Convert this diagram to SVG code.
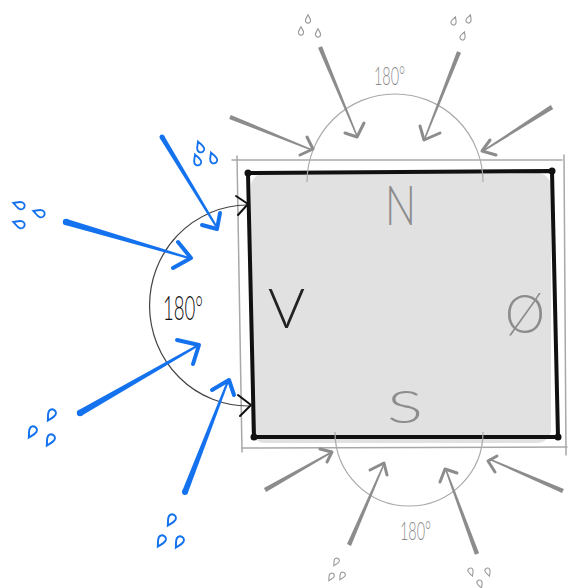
<svg xmlns="http://www.w3.org/2000/svg" xmlns:xlink="http://www.w3.org/1999/xlink" width="571" height="588" viewBox="0 0 571 588">
<style>
.frame{fill:none;stroke:#a8a8a8;stroke-width:1.5;stroke-linecap:round}
.wall{fill:none;stroke:#111;stroke-width:4;stroke-linecap:round;stroke-linejoin:round}
.arcg{fill:none;stroke:#aaa;stroke-width:1.2}
.arck{fill:none;stroke:#444;stroke-width:1.2}
.shb{fill:#1472ee}
.hdb{fill:none;stroke:#1472ee;stroke-width:4;stroke-linecap:round;stroke-linejoin:round}
.shg{fill:#8c8c8c}
.hdg{fill:none;stroke:#8c8c8c;stroke-width:3;stroke-linecap:round;stroke-linejoin:round}
.hdk{fill:none;stroke:#111;stroke-width:2;stroke-linecap:round;stroke-linejoin:round}
.dropb{fill:none;stroke:#1472ee;stroke-width:1.6}
.dropg{fill:none;stroke:#999;stroke-width:1.3}
.lbl{font-family:Lato,"Liberation Sans",Arial,sans-serif;font-weight:300}
.deg{font-family:Lato,"Liberation Sans",Arial,sans-serif;font-weight:300;font-size:25px;fill:#8c8c8c}
</style>
<defs>
<path id="drop" d="M0,-5 C-1.2,-2.5 -3,-0.5 -3,1.8 A3,3 0 0 0 3,1.8 C3,-0.5 1.2,-2.5 0,-5 Z"/>
</defs>

<g id="frame">
<line class="frame" x1="232" y1="160" x2="562" y2="160"/>
<line class="frame" x1="237" y1="156" x2="242" y2="452"/>
<line class="frame" x1="242" y1="448" x2="567" y2="447"/>
<line class="frame" x1="564" y1="155" x2="566" y2="455"/>
</g>

<g id="house">
<rect x="251" y="173" width="300" height="270" rx="14" fill="#e1e1e1"/>
<path class="wall" d="M248,173 L552,171 L558,437 L254,437 Z"/>
<circle cx="248" cy="173" r="3.5" fill="#111"/>
<circle cx="552" cy="171" r="3.5" fill="#111"/>
<circle cx="254" cy="437" r="3.5" fill="#111"/>
<circle cx="558" cy="437" r="3.5" fill="#111"/>
</g>

<g id="label-N"><text class="lbl" x="385" y="225" font-size="55" fill="#8c8c8c" textLength="31" lengthAdjust="spacingAndGlyphs">N</text></g>
<g id="label-V"><text class="lbl" x="268" y="328" font-size="56" fill="#222" textLength="37" lengthAdjust="spacingAndGlyphs">V</text></g>
<g id="label-O"><text class="lbl" x="505" y="333" font-size="54" fill="#8c8c8c" textLength="40" lengthAdjust="spacingAndGlyphs">Ø</text></g>
<g id="label-S"><text class="lbl" x="387" y="423" font-size="46" fill="#8c8c8c" textLength="36" lengthAdjust="spacingAndGlyphs">S</text></g>

<g id="arc-north">
<path class="arcg" d="M307,182 A88,88 0 0 1 483,182"/>
<text class="deg" x="374" y="85" textLength="31" lengthAdjust="spacingAndGlyphs">180°</text>
</g>
<g id="arc-south">
<path class="arcg" d="M335,432 A74,74 0 0 0 483,432"/>
<text class="deg" x="400" y="540" textLength="31" lengthAdjust="spacingAndGlyphs">180°</text>
</g>
<g id="arc-west">
<path class="arck" d="M247,205 A98,100 0 0 0 249,406"/>
<text class="lbl" x="163" y="320" font-size="34" fill="#111" textLength="40" lengthAdjust="spacingAndGlyphs">180°</text>
</g>

<g id="connectors">
<path class="hdk" d="M236,196 L248,204 L238,215"/>
<path class="hdk" d="M238,395 L251,405 L240,416"/>
<polygon class="shb" points="159.9,138.3 164.1,135.7 216.9,225.5 215.1,226.5"/>
<circle class="shb" cx="162" cy="137" r="2.5"/>
<path class="hdb" d="M202,225 L217,229 L220,213"/>
<polygon class="shb" points="65.1,225.1 66.9,218.9 189.3,257.0 188.7,259.0"/>
<circle class="shb" cx="66" cy="222" r="3.2"/>
<path class="hdb" d="M178,242 L191,258 L173,268"/>
<polygon class="shb" points="81.6,415.8 78.4,410.2 196.5,345.1 197.5,346.9"/>
<circle class="shb" cx="80" cy="413" r="3.2"/>
<path class="hdb" d="M177,340 L199,345 L193,364"/>
<polygon class="shb" points="187.8,493.1 182.2,490.9 227.1,380.6 228.9,381.4"/>
<circle class="shb" cx="185" cy="492" r="3"/>
<path class="hdb" d="M212,390 L229,380 L234,395"/>
<polygon class="shg" points="229.2,119.0 230.8,115.0 312.3,149.3 311.7,150.7"/>
<path class="hdg" d="M307,137 L313,149 L300,155"/>
<polygon class="shg" points="318.0,47.8 322.0,46.2 357.7,135.7 356.3,136.3"/>
<path class="hdg" d="M345,133 L357,137 L364,123"/>
<polygon class="shg" points="457.0,51.2 461.0,52.8 425.7,138.3 424.3,137.7"/>
<path class="hdg" d="M420,126 L424,140 L440,133"/>
<polygon class="shg" points="550.8,105.1 553.2,108.9 483.4,151.7 482.6,150.3"/>
<path class="hdg" d="M490,140 L482,151 L496,155"/>
<polygon class="shg" points="266.1,491.9 263.9,488.1 331.6,451.3 332.4,452.7"/>
<path class="hdg" d="M320,449 L332,452 L327,462"/>
<polygon class="shg" points="351.0,545.9 347.0,544.1 383.3,463.7 384.7,464.3"/>
<path class="hdg" d="M370,470 L384,463 L387,475"/>
<polygon class="shg" points="479.1,553.2 474.9,554.8 445.2,470.3 446.8,469.7"/>
<path class="hdg" d="M440,482 L445,469 L457,473"/>
<polygon class="shg" points="563.9,489.0 562.1,493.0 488.7,459.7 489.3,458.3"/>
<path class="hdg" d="M497,456 L488,461 L495,472"/>
</g>

<g id="drops-blue">
<use xlink:href="#drop" class="dropb" transform="translate(200,147) rotate(-20) scale(1.15)"/>
<use xlink:href="#drop" class="dropb" transform="translate(197,160) rotate(-20) scale(1.15)"/>
<use xlink:href="#drop" class="dropb" transform="translate(213,158) rotate(-20) scale(1.15)"/>
<use xlink:href="#drop" class="dropb" transform="translate(19,205) rotate(-70) scale(1.2)"/>
<use xlink:href="#drop" class="dropb" transform="translate(39,213) rotate(-70) scale(1.2)"/>
<use xlink:href="#drop" class="dropb" transform="translate(19,224) rotate(-70) scale(1.2)"/>
<use xlink:href="#drop" class="dropb" transform="translate(51,415) rotate(210) scale(1.25)"/>
<use xlink:href="#drop" class="dropb" transform="translate(32,432) rotate(210) scale(1.25)"/>
<use xlink:href="#drop" class="dropb" transform="translate(50,440) rotate(210) scale(1.25)"/>
<use xlink:href="#drop" class="dropb" transform="translate(171,520) rotate(210) scale(1.25)"/>
<use xlink:href="#drop" class="dropb" transform="translate(161,541) rotate(210) scale(1.25)"/>
<use xlink:href="#drop" class="dropb" transform="translate(179,542) rotate(210) scale(1.25)"/>
</g>
<g id="drops-gray">
<use xlink:href="#drop" class="dropg" transform="translate(308,19) scale(0.85)"/>
<use xlink:href="#drop" class="dropg" transform="translate(301,31) scale(0.85)"/>
<use xlink:href="#drop" class="dropg" transform="translate(318,33) scale(0.85)"/>
<use xlink:href="#drop" class="dropg" transform="translate(454,21) rotate(20) scale(0.85)"/>
<use xlink:href="#drop" class="dropg" transform="translate(469,19) rotate(20) scale(0.85)"/>
<use xlink:href="#drop" class="dropg" transform="translate(463,36) rotate(20) scale(0.85)"/>
<use xlink:href="#drop" class="dropg" transform="translate(336,562) rotate(210) scale(0.85)"/>
<use xlink:href="#drop" class="dropg" transform="translate(331,577) rotate(210) scale(0.85)"/>
<use xlink:href="#drop" class="dropg" transform="translate(342,576) rotate(210) scale(0.85)"/>
<use xlink:href="#drop" class="dropg" transform="translate(471,572) rotate(160) scale(0.85)"/>
<use xlink:href="#drop" class="dropg" transform="translate(488,572) rotate(160) scale(0.85)"/>
<use xlink:href="#drop" class="dropg" transform="translate(480,584) rotate(160) scale(0.85)"/>
</g>
</svg>
